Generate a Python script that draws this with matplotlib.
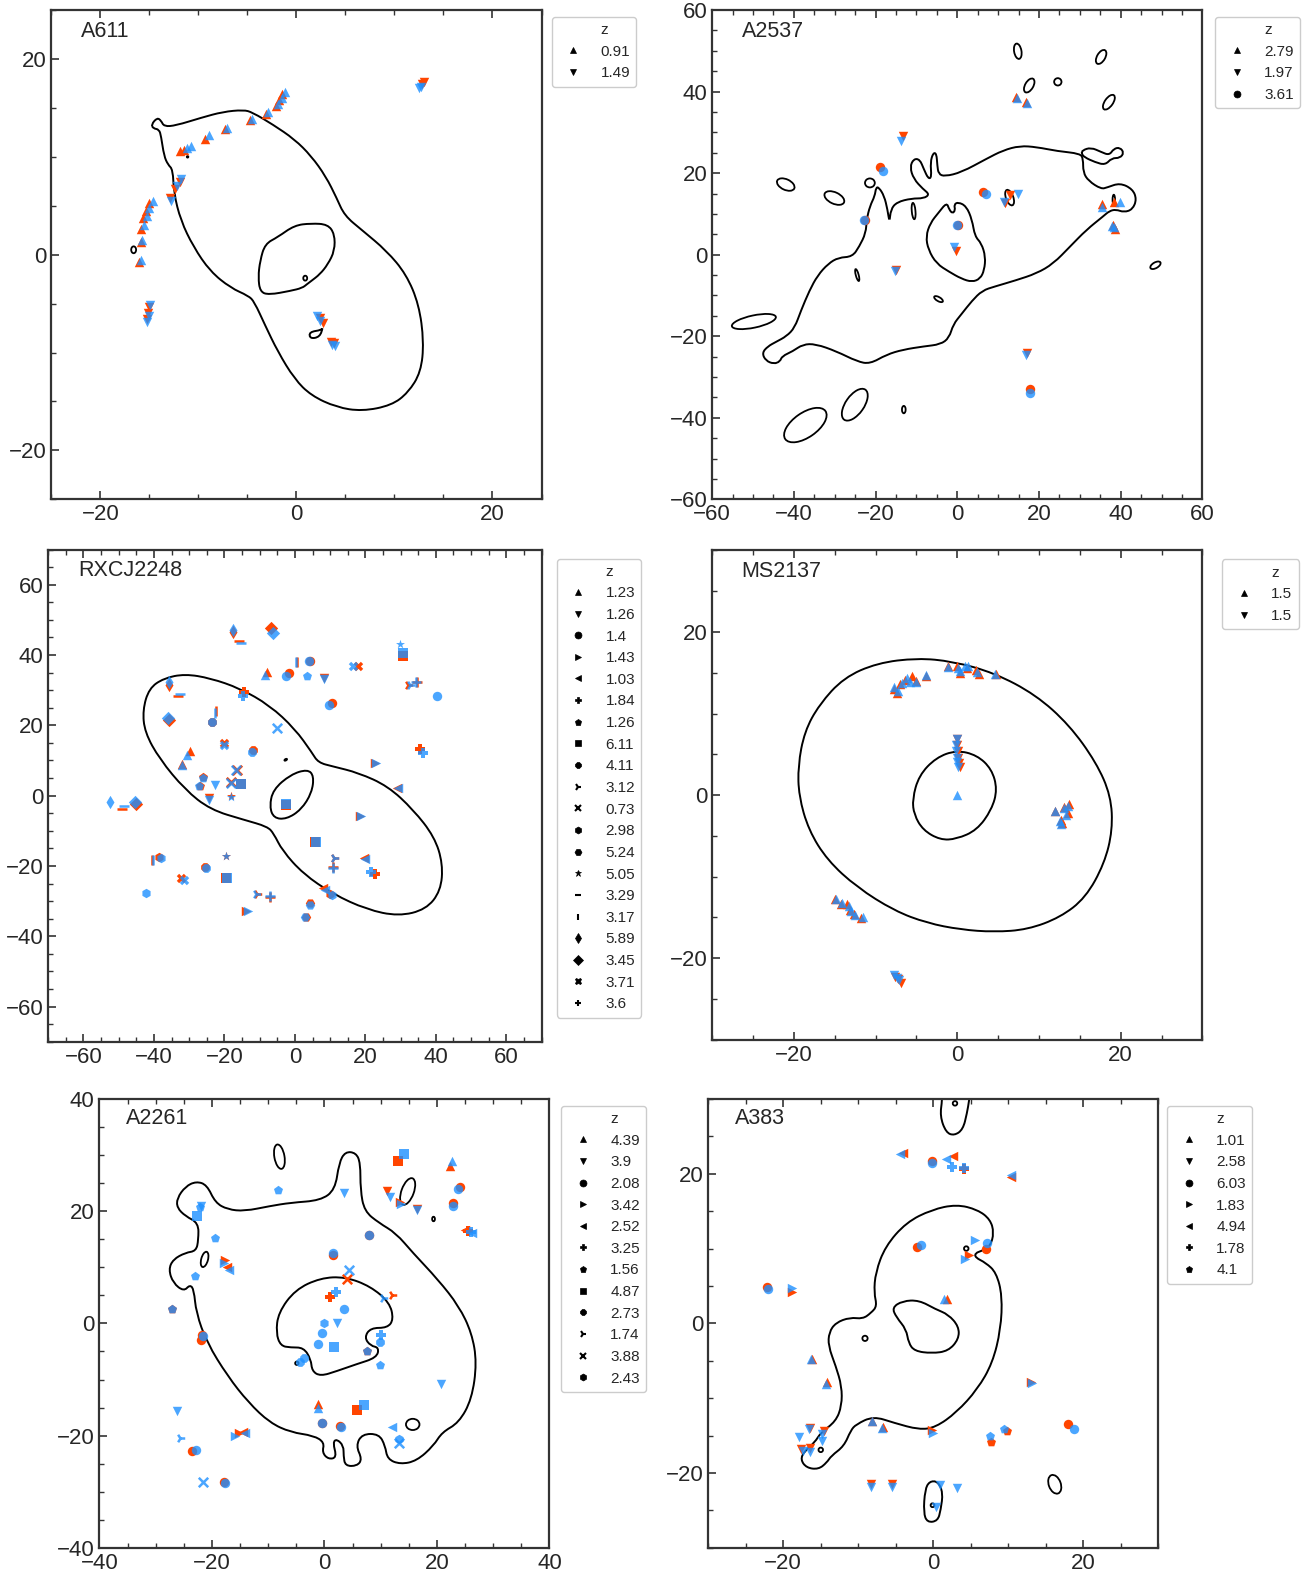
import numpy as np
import matplotlib
matplotlib.use("Agg")
import matplotlib.pyplot as plt
from matplotlib.lines import Line2D
from matplotlib.patches import Ellipse, PathPatch
from matplotlib.path import Path

plt.rcParams['font.family'] = ['Liberation Sans', 'DejaVu Sans']

RED = '#FF4500'
BLUE = '#1E90FF'
MARKERS = ['^', 'v', 'o', '>', '<', 'P', 'p', 's', '8', '4', 'x', 'h', 'H', '*', '_', '|', 'd', 'D', 'X', '+']
LINE_MARKERS = {'4', 'x', '_', '|', '+'}

# ---------------- A611 ----------------
A611_Z = ['0.91', '1.49']
A611_RED = [
    [(-1.5, 16.4), (-1.8, 15.8), (-2.1, 15.2), (-3.1, 14.4), (-4.7, 13.8), (-7.3, 12.8), (-9.3, 11.8),
     (-11.5, 10.7), (-11.9, 10.6), (-15.0, 5.3), (-15.3, 4.5), (-15.6, 3.7), (-15.9, 2.6), (-15.9, 1.3), (-16.1, -0.7)],
    [(-11.9, 7.4), (-12.4, 6.7), (-12.9, 5.8), (-15.0, -5.3), (-15.1, -6.0), (-15.2, -6.6), (2.4, -6.5),
     (2.7, -7.0), (3.5, -8.9), (3.8, -9.0), (13.0, 17.6), (12.8, 17.4)],
]
A611_BLUE = [
    [(-1.2, 16.6), (-1.5, 16.0), (-1.9, 15.4), (-2.9, 14.6), (-4.5, 13.9), (-7.1, 12.9), (-8.9, 12.2),
     (-10.8, 11.1), (-11.2, 10.9), (-14.6, 5.5), (-15.0, 4.8), (-15.2, 4.0), (-15.5, 3.0), (-15.7, 1.5), (-15.9, -0.5)],
    [(-11.8, 7.7), (-12.2, 7.0), (-12.8, 5.5), (-14.9, -5.1), (-15.0, -6.3), (-15.2, -6.9), (2.1, -6.3),
     (2.4, -6.8), (3.6, -9.2), (3.9, -9.3), (12.7, 17.1), (12.5, 17.0)],
]
A611_CURVES = [
    [(-14.8, 13.3), (-14.2, 14.0), (-13.8, 13.7), (-13.5, 13.1), (-12.3, 13.2), (-9.7, 14.0), (-7.5, 14.6),
     (-5.4, 14.8), (-4.5, 14.55), (-2.4, 13.3), (-0.2, 11.8), (1.5, 10.1), (3.0, 8.0), (4.1, 5.8), (4.9, 4.0),
     (6.7, 2.5), (9.2, 0.4), (11.2, -2.0), (12.5, -5.1), (13.0, -8.9), (12.7, -12.0), (11.4, -14.1), (9.7, -15.4),
     (6.7, -16.0), (4.1, -15.6), (1.5, -14.4), (-0.2, -12.7), (-1.9, -9.9), (-3.2, -7.2), (-4.3, -4.8),
     (-4.9, -4.2), (-6.7, -3.4), (-8.8, -1.7), (-10.5, 0.8), (-11.8, 3.5), (-12.5, 6.3), (-12.6, 8.7),
     (-13.1, 9.2), (-13.5, 10.1), (-13.8, 12.1), (-14.0, 12.8), (-14.6, 12.9)],
    [(-3.7, -0.6), (-3.2, 1.1), (-1.9, 1.8), (-0.2, 3.0), (1.5, 3.2), (3.2, 3.1), (3.9, 2.1), (3.9, 0.4),
     (3.2, -1.0), (2.4, -2.0), (1.5, -2.7), (1.1, -3.0), (0.6, -3.4), (-0.6, -3.7), (-2.8, -4.1), (-3.7, -3.8),
     (-3.9, -2.3)],
    [(1.3, -7.9), (2.6, -7.7), (2.7, -7.4), (2.4, -8.4), (1.4, -8.6)],
]
A611_LOOPS = [(0.9, -2.4, 0.4, 0.5, 0), (-16.6, 0.5, 0.5, 0.7, 0), (-11.1, 10.0, 0.15, 0.15, 0)]

# ---------------- A2537 ----------------
A2537_Z = ['2.79', '1.97', '3.61']
A2537_RED = [
    [(14.4, 38.7), (16.9, 37.5), (35.4, 12.5), (38.3, 13.0), (38.6, 6.4), (38.0, 7.4)],
    [(-13.4, 29.0), (11.6, 12.7), (13.0, 14.6), (-0.4, 1.0), (-15.0, -3.7), (17.0, -24.0)],
    [(-19.0, 21.4), (-22.6, 8.5), (6.3, 15.4), (0.1, 7.3), (17.8, -32.9)],
]
A2537_BLUE = [
    [(14.7, 38.4), (17.0, 37.3), (35.5, 11.7), (39.8, 12.8), (38.3, 6.9), (37.8, 7.1)],
    [(-13.9, 28.0), (11.4, 12.9), (14.9, 14.8), (-0.8, 2.0), (-15.2, -3.9), (16.8, -24.6)],
    [(-18.1, 20.6), (-22.8, 8.6), (7.1, 14.8), (0.0, 7.4), (17.8, -33.9)],
]
A2537_CURVES = [
    [(-44.9, -26.8), (-46.9, -26.0), (-47.8, -24.1), (-46.4, -22.5), (-44.4, -21.4), (-41.8, -20.0),
     (-39.8, -17.9), (-38.3, -13.8), (-36.2, -8.8), (-34.2, -5.1), (-31.6, -2.2), (-29.1, -0.7), (-25.7, -0.5),
     (-24.0, 2.0), (-22.4, 5.3), (-22.2, 8.6), (-21.4, 11.9), (-20.2, 14.4), (-19.9, 16.5), (-19.2, 16.5),
     (-17.9, 14.4), (-17.1, 11.1), (-16.6, 7.8), (-16.3, 11.1), (-14.8, 12.9), (-11.2, 13.8), (-8.2, 13.8),
     (-6.8, 14.8), (-8.4, 16.1), (-10.7, 18.6), (-11.6, 21.5), (-10.7, 23.5), (-9.2, 23.4), (-8.2, 21.0),
     (-7.1, 18.6), (-6.3, 19.0), (-6.6, 22.7), (-5.9, 25.0), (-5.1, 24.8), (-4.9, 21.9), (-4.6, 19.8),
     (-3.1, 19.2), (1.0, 20.2), (7.1, 23.5), (11.2, 25.6), (15.3, 26.7), (19.4, 26.4), (24.5, 25.4),
     (30.1, 24.8), (30.8, 23.5), (30.8, 20.2), (32.1, 18.1), (35.2, 16.1), (36.7, 16.5), (39.8, 17.6),
     (42.9, 16.1), (43.9, 13.6), (42.9, 11.1), (40.8, 10.4), (38.8, 11.1), (37.2, 10.7), (35.7, 9.4),
     (31.6, 6.1), (27.6, 2.0), (23.5, -2.2), (19.4, -4.6), (14.3, -6.3), (9.2, -7.8), (6.1, -8.8),
     (3.6, -11.3), (1.0, -14.6), (-1.0, -17.1), (-2.0, -20.4), (-4.1, -22.0), (-8.2, -22.5), (-13.3, -23.3),
     (-17.3, -24.5), (-21.4, -26.8), (-24.5, -26.2), (-29.6, -23.7), (-34.7, -21.9), (-37.8, -22.0),
     (-40.3, -23.7), (-42.9, -24.9), (-43.4, -26.2)],
    [(-2.6, 12.8), (-2.0, 11.1), (-1.2, 10.1), (-0.5, 10.9), (-0.8, 12.3), (0.2, 12.9), (2.2, 11.9),
     (3.6, 8.6), (4.3, 4.5), (5.9, 2.8), (6.9, -0.5), (6.6, -3.8), (5.6, -5.9), (3.6, -6.7), (1.0, -5.9),
     (-2.0, -4.2), (-5.1, -2.2), (-7.1, 1.2), (-7.7, 4.5), (-6.6, 7.8), (-4.6, 10.3)],
    [(30.6, 25.6), (32.7, 26.3), (35.2, 25.2), (37.2, 24.4), (38.3, 26.0), (39.8, 26.3), (40.8, 25.0),
     (39.8, 23.7), (37.8, 23.7), (36.2, 22.0), (33.7, 22.7), (31.1, 23.9), (30.4, 24.8)],
]
A2537_LOOPS = [(14.8, 49.9, 1.8, 3.8, 10), (35.2, 48.5, 2.0, 3.8, -30), (17.6, 41.5, 2.0, 3.8, -30),
               (24.6, 42.4, 1.8, 1.8, 0), (37.1, 37.4, 2.0, 4.2, -35), (-42.0, 17.2, 4.6, 2.6, -25),
               (-30.1, 13.9, 5.2, 2.8, -25), (-21.4, 17.6, 2.4, 2.2, 0), (-10.7, 10.7, 0.9, 4.0, 5),
               (12.8, 14.0, 1.8, 4.0, 20), (38.3, 13.5, 0.6, 2.4, 0), (48.5, -2.6, 2.8, 1.4, 30),
               (-24.5, -5.0, 0.7, 3.0, 15), (-4.6, -10.9, 2.4, 1.0, -30), (-49.8, -16.4, 11.0, 3.0, 12),
               (-25.1, -36.8, 9.0, 4.5, 55), (-37.2, -41.8, 12.0, 6.0, 35), (-13.1, -38.0, 0.9, 1.8, 0)]

# ---------------- RXCJ2248 ----------------
RX_Z = ['1.23', '1.26', '1.4', '1.43', '1.03', '1.84', '1.26', '6.11', '4.11', '3.12',
        '0.73', '2.98', '5.24', '5.05', '3.29', '3.17', '5.89', '3.45', '3.71', '3.6']
RX_RED = [
    [(-8.0, 35.2), (-29.8, 12.7), (-32.1, 8.9)],
    [(8.4, 33.5), (-24.4, -0.8)],
    [(4.4, 38.2), (-1.6, 34.8), (10.4, 26.4)],
    [(22.8, 9.4), (18.6, -5.8), (-13.8, -32.8)],
    [(29.0, 2.2), (19.6, -17.7), (8.0, -26.4)],
    [(35.4, 13.2), (22.8, -22.4), (-14.4, 29.4)],
    [(-26.0, 5.4), (-27.0, 2.8)],
    [(30.8, 39.8), (-15.4, 3.3), (-2.4, -2.8), (5.6, -13.3), (-19.6, -23.5)],
    [(-11.8, 13.0), (-23.6, 20.9), (-25.6, -20.3)],
    [(32.2, 31.5), (11.2, -17.8), (-10.8, -28.0)],
    [(-16.4, 7.4), (-18.0, 4.0)],
    [(-38.6, -17.6), (10.0, -28.0)],
    [(4.4, -30.6), (3.2, -34.6)],
    [(-18.0, -0.1), (-19.6, -17.1)],
    [(-16.0, 44.0), (-33.2, 28.2), (-49.0, -3.8)],
    [(0.5, 37.9), (-22.4, 24.2), (-40.6, -18.4)],
    [(-17.6, 46.6), (-35.6, 31.6)],
    [(-6.8, 47.6), (-35.6, 21.6), (-45.0, -2.5)],
    [(17.8, 36.8), (-20.0, 14.9), (-32.2, -23.4)],
    [(34.8, 32.4), (10.8, -20.4), (-7.2, -28.8)],
]
RX_BLUE = [
    [(-8.6, 34.4), (-30.6, 11.5), (-32.0, 8.8)],
    [(8.2, 33.2), (-22.8, 2.9), (-24.4, -1.2)],
    [(4.0, 38.3), (-2.4, 34.1), (9.6, 25.7), (40.2, 28.4)],
    [(23.0, 9.3), (18.8, -5.8), (-13.4, -32.8)],
    [(29.2, 2.2), (20.0, -17.9), (8.6, -26.8)],
    [(36.4, 12.2), (21.6, -21.8), (-14.6, 28.2)],
    [(-26.1, 5.1), (-27.1, 2.6), (3.4, 34.1)],
    [(30.8, 40.6), (-15.2, 3.3), (-2.5, -2.4), (6.0, -13.2), (-19.2, -23.5)],
    [(-12.2, 12.4), (-23.6, 20.8), (-25.2, -20.6)],
    [(32.6, 31.6), (11.0, -17.8), (-11.0, -28.0)],
    [(-5.2, 19.2), (-16.6, 7.2), (-18.2, 3.7)],
    [(-38.0, -17.8), (10.4, -28.3), (-42.2, -27.8)],
    [(4.2, -31.0), (3.0, -34.4)],
    [(29.8, 43.0), (-18.1, -0.3), (-19.5, -17.2)],
    [(-15.4, 43.4), (-32.6, 29.0), (-48.4, -3.0)],
    [(0.2, 37.9), (-22.6, 23.6), (-40.2, -18.2)],
    [(-17.6, 47.0), (-35.7, 32.4), (-52.6, -1.9)],
    [(-6.2, 46.2), (-35.9, 22.0), (-45.4, -1.9)],
    [(16.6, 37.0), (-20.0, 14.3), (-31.6, -24.0)],
    [(34.4, 32.2), (10.8, -20.6), (-7.0, -28.6)],
]
RX_CURVES = [
    [(-43.2, 24.3), (-41.4, 30.5), (-37.2, 33.4), (-31.2, 34.6), (-24.0, 33.4), (-15.6, 30.5), (-7.2, 25.7),
     (0.0, 19.0), (4.8, 12.3), (6.6, 9.4), (10.8, 8.3), (18.0, 6.5), (26.4, 2.7), (33.6, -4.0), (39.6, -11.7),
     (42.0, -19.4), (41.4, -27.1), (37.2, -32.4), (29.4, -34.3), (20.4, -32.4), (10.8, -28.0), (2.4, -22.3),
     (-3.6, -15.6), (-6.0, -10.8), (-7.8, -8.8), (-14.4, -6.9), (-24.0, -4.0), (-31.2, 1.7), (-38.4, 10.4),
     (-42.6, 18.0)],
    [(-6.2, 1.7), (-1.2, 6.0), (3.6, 7.5), (5.4, 5.6), (4.8, 0.8), (1.8, -4.0), (-2.4, -6.7), (-6.0, -6.4),
     (-7.2, -3.1)],
]
RX_LOOPS = [(-2.6, 10.2, 0.8, 0.4, 30)]

# ---------------- MS2137 ----------------
MS_Z = ['1.5', '1.5']
MS_RED = [
    [(-7.7, 13.0), (-7.4, 12.5), (-7.0, 13.6), (-6.4, 14.1), (-5.5, 14.6), (-5.0, 14.0), (-3.8, 14.6),
     (-1.2, 15.8), (0.0, 15.8), (0.3, 15.0), (1.2, 15.6), (2.3, 15.3), (2.6, 14.8), (4.7, 14.8),
     (12.0, -2.0), (12.7, -3.0), (13.1, -1.5), (13.7, -1.1), (13.5, -2.2), (12.8, -3.4),
     (-15.0, -12.8), (-14.2, -13.4), (-13.5, -13.4), (-13.1, -14.1), (-12.7, -14.6), (-11.8, -15.1)],
    [(0.0, 6.9), (-0.1, 6.2), (0.1, 5.4), (0.1, 4.5), (0.2, 3.9), (0.3, 3.4),
     (-7.6, -22.3), (-7.2, -22.6), (-6.9, -23.0)],
]
MS_BLUE = [
    [(-7.8, 13.3), (-7.3, 12.8), (-6.8, 13.8), (-6.2, 14.3), (-5.8, 13.9), (-5.0, 13.9), (-3.8, 14.7),
     (-1.2, 15.7), (0.1, 15.6), (0.3, 15.2), (0.9, 15.8), (1.3, 15.8), (2.4, 15.1), (4.6, 14.8), (0.0, 0.0),
     (11.9, -2.0), (12.6, -3.2), (13.0, -1.6), (13.5, -1.3), (13.3, -2.4), (12.7, -3.5),
     (-14.9, -12.7), (-14.1, -13.3), (-13.3, -13.6), (-13.0, -14.2), (-12.5, -14.7), (-11.6, -15.0)],
    [(-0.1, 6.9), (-0.2, 6.2), (-0.2, 5.4), (0.0, 4.6), (0.0, 4.0), (0.1, 3.5),
     (-7.8, -22.1), (-7.4, -22.4), (-7.1, -22.7)],
]
MS_CURVES = [
    [(-19.5, 3.6), (-18.7, 7.8), (-16.9, 11.1), (-13.9, 14.4), (-9.8, 16.2), (-4.9, 16.8), (-0.6, 16.4),
     (4.5, 15.0), (9.6, 12.3), (13.7, 8.6), (17.0, 4.0), (18.8, -0.1), (19.0, -4.3), (18.0, -8.4),
     (15.7, -12.6), (12.6, -15.0), (8.6, -16.5), (4.5, -16.8), (0.4, -16.5), (-3.7, -15.7), (-7.7, -14.2),
     (-12.3, -11.3), (-15.9, -8.0), (-18.2, -4.3), (-19.4, -0.1)],
    [(-5.5, -0.5), (-4.7, 2.4), (-2.6, 4.6), (-0.1, 5.5), (2.4, 4.9), (4.2, 3.2), (4.9, 0.7), (4.2, -1.8),
     (2.4, -4.3), (-0.1, -5.4), (-2.1, -5.5), (-4.2, -4.3), (-5.3, -2.4)],
]
MS_LOOPS = []

# ---------------- A2261 ----------------
A2261_Z = ['4.39', '3.9', '2.08', '3.42', '2.52', '3.25', '1.56', '4.87', '2.73', '1.74', '3.88', '2.43']
A2261_RED = [
    [(22.3, 28.1), (-1.1, -14.4)],
    [(11.1, 23.6), (16.4, 20.3)],
    [(24.1, 24.3), (22.8, 21.4), (8.0, 15.8), (1.5, 12.2), (-21.7, -2.0), (-21.9, -2.9), (-0.4, -17.7),
     (2.8, -18.3), (-23.6, -22.7), (-17.9, -28.2)],
    [(13.5, 21.6), (-17.6, 11.3), (-15.2, -19.5)],
    [(25.0, 16.6), (-17.4, 10.1), (-14.4, -19.4)],
    [(1.0, 4.7), (25.6, 16.4)],
    [(-27.1, 2.6), (7.6, -5.0)],
    [(13.1, 28.9), (5.8, -15.5)],
    [],
    [(12.0, 5.0)],
    [(4.1, 7.9)],
    [],
]
A2261_BLUE = [
    [(22.7, 28.9), (-1.1, -15.0)],
    [(3.4, 23.2), (11.6, 22.5), (16.4, 20.2), (-21.9, 21.0), (2.2, 0.0), (-26.2, -15.6), (20.8, -10.8)],
    [(23.8, 24.0), (22.8, 21.0), (8.0, 15.7), (1.6, 12.6), (-21.6, -2.2), (-0.4, -17.8), (2.9, -18.4),
     (-22.9, -22.5), (-17.7, -28.4), (-0.4, -1.8), (-1.1, -3.6), (3.4, 2.6)],
    [(13.6, 21.3), (-17.9, 10.8), (-15.9, -20.0)],
    [(26.2, 16.1), (-17.0, 9.6), (-14.2, -19.5), (12.0, -18.4)],
    [(2.0, 5.6), (10.1, -2.1), (26.0, 16.2)],
    [(-8.2, 23.8), (-19.4, 15.3), (-23.0, 8.4), (-27.1, 2.5), (9.9, -7.5), (7.6, -5.0), (-22.2, 20.8)],
    [(14.1, 30.2), (-22.7, 19.2), (1.7, -4.2), (7.0, -14.5)],
    [(-3.7, -6.2), (-4.3, -6.8), (9.9, -3.3)],
    [(10.5, 4.6), (-25.6, -20.5)],
    [(4.3, 9.5), (-21.5, -28.3), (13.3, -21.3)],
    [(-0.1, 0.0), (13.2, -20.6)],
]
A2261_CURVES = [
    [(-26.2, 22.3), (-24.7, 24.4), (-22.8, 25.3), (-20.9, 24.7), (-19.4, 21.5), (-17.2, 20.3), (-14.2, 20.0),
     (-9.7, 20.9), (-6.0, 21.5), (-0.7, 21.9), (1.9, 23.8), (2.6, 28.6), (3.7, 30.6), (5.6, 30.4), (6.4, 28.6),
     (6.4, 23.8), (7.1, 20.0), (9.7, 17.9), (12.7, 16.1), (15.7, 12.6), (20.2, 7.8), (23.9, 3.1), (26.2, -1.7),
     (27.1, -7.0), (26.2, -13.5), (23.9, -17.7), (20.9, -19.4), (19.4, -21.8), (16.4, -24.5), (13.5, -25.1),
     (11.2, -24.2), (10.8, -21.8), (9.7, -19.7), (6.7, -19.7), (5.6, -21.8), (6.7, -24.2), (5.8, -25.4),
     (3.7, -25.4), (3.4, -23.6), (3.4, -21.8), (2.2, -20.6), (1.5, -21.2), (2.2, -23.9), (0.7, -24.2),
     (-0.4, -23.0), (0.0, -21.2), (-1.9, -20.0), (-6.0, -19.4), (-9.7, -17.7), (-13.5, -14.1), (-17.2, -9.4),
     (-20.9, -3.4), (-22.8, 1.9), (-23.2, 6.0), (-23.9, 6.9), (-25.0, 5.7), (-26.9, 7.2), (-27.7, 9.6),
     (-26.9, 11.4), (-24.7, 12.6), (-22.8, 12.9), (-22.4, 14.9), (-22.4, 17.9), (-24.7, 19.1), (-26.2, 20.6)],
    [(-8.6, -1.7), (-8.2, 1.9), (-5.2, 6.0), (-0.7, 8.1), (3.7, 8.3), (8.2, 6.6), (11.6, 3.7), (12.3, 0.7),
     (11.2, -0.8), (8.2, -0.8), (7.1, -2.5), (8.2, -4.0), (9.7, -4.3), (9.3, -6.1), (5.6, -7.3), (2.2, -8.5),
     (-0.7, -9.4), (-2.2, -8.5), (-2.4, -6.4), (-3.7, -4.3), (-6.0, -4.3), (-7.8, -4.0)],
]
A2261_LOOPS = [(-8.0, 29.7, 1.8, 4.4, 10), (-21.3, 11.4, 1.2, 2.8, -15), (14.8, 23.5, 2.2, 5.0, -20),
               (15.7, -18.0, 2.4, 2.0, 0), (19.4, 18.6, 0.5, 0.8, 0), (-4.9, -7.1, 0.6, 0.6, 0)]

# ---------------- A383 ----------------
A383_Z = ['1.01', '2.58', '6.03', '1.83', '4.94', '1.78', '4.1']
A383_RED = [
    [(1.8, 3.2), (-16.2, -4.7), (-14.2, -7.8), (-8.2, -13.0), (-6.7, -13.9)],
    [(-16.5, -14.0), (-14.6, -14.4), (-17.6, -16.8), (-8.3, -21.5), (-5.5, -21.5), (-16.4, -16.7)],
    [(-0.2, 21.7), (-22.2, 4.9), (-2.2, 10.2), (7.0, 10.0), (17.9, -13.5)],
    [(-18.9, 4.2), (4.7, 9.1), (13.0, -7.8), (-0.2, -14.3)],
    [(-4.0, 22.8), (2.6, 22.4), (10.4, 19.6)],
    [(4.1, 20.6)],
    [(7.7, -15.9), (9.8, -14.4)],
]
A383_BLUE = [
    [(1.4, 3.3), (-16.3, -4.8), (-14.3, -8.1), (-8.2, -13.1), (-6.8, -14.0)],
    [(-16.6, -14.1), (-17.9, -15.2), (-14.8, -15.7), (-14.9, -14.8), (-17.4, -17.1), (-16.5, -17.2),
     (-8.3, -21.9), (-5.5, -21.8), (0.9, -21.6), (3.2, -22.0), (0.3, -24.6)],
    [(-0.2, 21.4), (-22.0, 4.6), (-1.7, 10.5), (7.2, 10.7), (18.7, -14.1)],
    [(-18.9, 4.7), (5.5, 11.1), (4.2, 8.6), (13.2, -7.9), (0.0, -14.6)],
    [(-4.4, 22.6), (1.7, 21.9), (10.3, 19.8)],
    [(2.5, 20.9), (4.1, 20.8)],
    [(7.5, -15.0), (9.4, -14.1)],
]
A383_CURVES = [
    [(-7.5, 2.3), (-7.9, 4.1), (-7.7, 6.8), (-6.4, 10.3), (-3.6, 13.5), (-0.2, 15.2), (3.1, 15.9), (5.9, 15.2),
     (7.6, 13.9), (8.1, 12.1), (7.6, 10.3), (6.5, 9.7), (5.6, 9.4), (5.6, 8.8), (7.0, 8.1), (8.4, 6.8),
     (9.2, 3.7), (9.0, -0.8), (7.9, -5.3), (5.9, -8.8), (3.1, -11.9), (0.3, -13.9), (-1.9, -14.2),
     (-5.2, -13.3), (-8.0, -12.4), (-10.3, -13.5), (-11.0, -14.3), (-11.9, -16.4), (-13.6, -17.7),
     (-14.2, -18.6), (-15.3, -19.5), (-16.9, -19.3), (-17.7, -18.2), (-17.2, -17.1), (-15.8, -15.9),
     (-15.0, -14.6), (-13.0, -13.1), (-12.2, -11.0), (-12.2, -8.4), (-13.0, -5.7), (-14.0, -3.0),
     (-13.9, -1.2), (-13.0, 0.1), (-11.1, 0.8), (-9.4, 0.6), (-8.3, 1.4)],
    [(-5.5, 2.1), (-4.1, 3.0), (-1.9, 3.1), (0.3, 1.9), (2.0, 1.2), (3.4, -0.4), (3.4, -2.1), (2.0, -3.7),
     (-0.2, -4.0), (-2.5, -3.7), (-3.3, -2.6), (-3.6, -0.8), (-4.9, 0.8)],
    [(-0.5, -21.1), (-1.1, -22.2), (-1.3, -25.3), (-0.8, -26.6), (0.6, -26.4), (1.0, -24.9), (1.3, -22.6),
     (0.6, -21.1)],
]
A383_OPEN = [[(1.2, 31.0), (1.2, 29.9), (0.9, 27.7), (1.7, 25.5), (2.8, 25.1), (3.96, 25.9), (4.5, 28.1),
              (4.8, 29.9), (4.9, 31.0)]]
A383_LOOPS = [(16.2, -21.5, 1.6, 2.6, 20), (2.9, 29.4, 0.6, 0.6, 0), (-0.1, -24.3, 0.5, 0.5, 0),
              (-9.1, -2.0, 0.7, 0.7, 0), (4.4, 10.0, 0.6, 0.6, 0), (-15.0, -16.9, 0.6, 0.6, 0)]

PANELS = [
    dict(name='A611', z=A611_Z, red=A611_RED, blue=A611_BLUE, curves=A611_CURVES, open=[], loops=A611_LOOPS,
         lim=25, rect=[0.0390, 0.6830, 0.3728, 0.3106], leg=(10, 7)),
    dict(name='A2537', z=A2537_Z, red=A2537_RED, blue=A2537_BLUE, curves=A2537_CURVES, open=[],
         loops=A2537_LOOPS, lim=60, rect=[0.5416, 0.6830, 0.3728, 0.3106], leg=(13, 7)),
    dict(name='RXCJ2248', z=RX_Z, red=RX_RED, blue=RX_BLUE, curves=RX_CURVES, open=[], loops=RX_LOOPS,
         lim=70, rect=[0.0367, 0.3386, 0.3751, 0.3125], leg=(15, 9)),
    dict(name='MS2137', z=MS_Z, red=MS_RED, blue=MS_BLUE, curves=MS_CURVES, open=[], loops=MS_LOOPS,
         lim=30, rect=[0.5416, 0.3399, 0.3728, 0.3106], leg=(20, 9)),
    dict(name='A2261', z=A2261_Z, red=A2261_RED, blue=A2261_BLUE, curves=A2261_CURVES, open=[],
         loops=A2261_LOOPS, lim=40, rect=[0.0756, 0.0172, 0.3422, 0.2851], leg=(12, 7)),
    dict(name='A383', z=A383_Z, red=A383_RED, blue=A383_BLUE, curves=A383_CURVES, open=A383_OPEN,
         loops=A383_LOOPS, lim=30, rect=[0.5386, 0.0172, 0.3422, 0.2851], leg=(9, 7)),
]


def smooth_path(pts, closed):
    """Quadratic-Bezier path using the given vertices as control points."""
    P = np.asarray(pts, dtype=float)
    n = len(P)
    verts, codes = [], []
    if closed:
        start = (P[-1] + P[0]) / 2
        verts.append(start)
        codes.append(Path.MOVETO)
        for i in range(n):
            nxt = P[(i + 1) % n]
            verts += [P[i], (P[i] + nxt) / 2]
            codes += [Path.CURVE3, Path.CURVE3]
    else:
        verts.append(P[0])
        codes.append(Path.MOVETO)
        for i in range(1, n - 1):
            verts += [P[i], (P[i] + P[i + 1]) / 2]
            codes += [Path.CURVE3, Path.CURVE3]
        verts.append(P[-1])
        codes.append(Path.LINETO)
    return Path(np.array(verts), codes)


FIG_W, FIG_H = 1315, 1575
fig = plt.figure(figsize=(FIG_W / 100, FIG_H / 100), dpi=100)
SPINE = '#333333'

for p in PANELS:
    ax = fig.add_axes(p['rect'])
    lim = p['lim']
    for c in p['curves']:
        ax.add_patch(PathPatch(smooth_path(c, True), fill=False, ec='black', lw=1.4, zorder=2))
    for c in p['open']:
        ax.add_patch(PathPatch(smooth_path(c, False), fill=False, ec='black', lw=1.4, zorder=2))
    for (cx, cy, w, h, ang) in p['loops']:
        ax.add_patch(Ellipse((cx, cy), w, h, angle=ang, fill=False, ec='black', lw=1.3, zorder=2))
    for i, zlab in enumerate(p['z']):
        m = MARKERS[i]
        lw = 1.8 if m in LINE_MARKERS else 0
        r = np.array(p['red'][i]) if len(p['red'][i]) else np.zeros((0, 2))
        b = np.array(p['blue'][i]) if len(p['blue'][i]) else np.zeros((0, 2))
        ax.scatter(r[:, 0], r[:, 1], marker=m, s=46, color=RED, linewidths=lw, zorder=3)
        ax.scatter(b[:, 0], b[:, 1], marker=m, s=46, color=BLUE, alpha=0.8, linewidths=lw, zorder=4)
    ax.set_xlim(-lim, lim)
    ax.set_ylim(-lim, lim)
    ax.xaxis.set_major_locator(matplotlib.ticker.MultipleLocator(20))
    ax.yaxis.set_major_locator(matplotlib.ticker.MultipleLocator(20))
    ax.xaxis.set_minor_locator(matplotlib.ticker.MultipleLocator(5))
    ax.yaxis.set_minor_locator(matplotlib.ticker.MultipleLocator(5))
    ax.tick_params(which='both', direction='in', top=True, right=False, bottom=True, left=True,
                   color=SPINE, labelcolor='#262626', labelsize=16)
    ax.tick_params(which='major', length=6, width=1.2)
    ax.tick_params(which='minor', length=3.5, width=1.0)
    for s in ax.spines.values():
        s.set_color(SPINE)
        s.set_linewidth(1.6)
    ax.text(0.06, 0.957, p['name'], transform=ax.transAxes, fontsize=15.5, color='#262626',
            ha='left', va='center')
    handles = [Line2D([], [], linestyle='', marker='', color='none')]
    labels = ['z']
    for i, zlab in enumerate(p['z']):
        m = MARKERS[i]
        handles.append(Line2D([], [], linestyle='', marker=m, color='black', markersize=5,
                              markeredgewidth=1.5 if m in LINE_MARKERS else 0.5))
        labels.append(zlab)
    bb = ax.get_position()
    axw = bb.width * FIG_W
    axh = bb.height * FIG_H
    dx, dy = p['leg']
    ax.legend(handles, labels, loc='upper left', bbox_to_anchor=(1 + dx / axw, 1 - dy / axh),
              borderaxespad=0, fontsize=11, frameon=True, edgecolor='#cccccc', framealpha=1.0,
              labelcolor='#262626')

fig.savefig('out.png', dpi=100)
